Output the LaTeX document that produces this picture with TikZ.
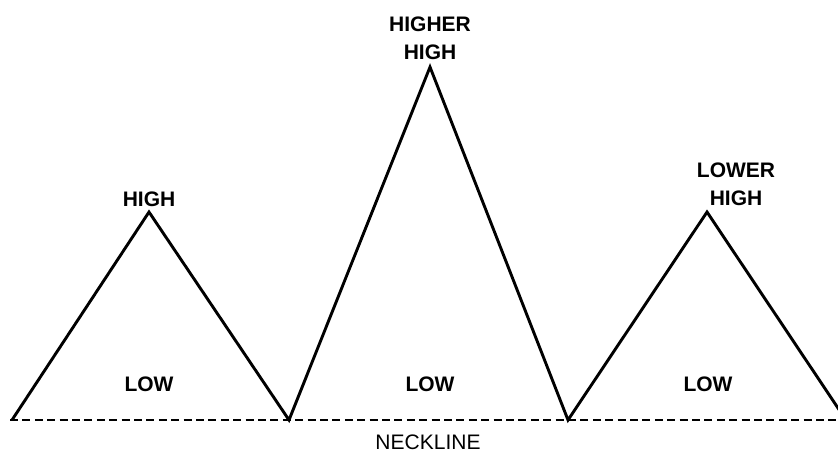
\documentclass[tikz,border=0pt]{standalone}
\usepackage{fontspec}
\setmainfont{Liberation Sans}
\tikzset{
  peaklbl/.style={font=\fontsize{10.5}{14}\selectfont\bfseries, align=center, inner sep=0pt},
  necklbl/.style={font=\fontsize{10.5}{14}\selectfont, inner sep=0pt},
  trendline/.style={line width=1.45pt, line join=miter},
  neckdash/.style={line width=1.45pt, dash pattern=on 4pt off 2.2pt}
}
\begin{document}
\begin{tikzpicture}[x=0.5pt, y=-0.5pt]
  \useasboundingbox (0,0) rectangle (838,452);
  \clip (0,0) rectangle (838,452);

  % Turning points
  \coordinate (start) at (12,420);
  \coordinate (high) at (149,212);
  \coordinate (lowa) at (289,420);
  \coordinate (higherhigh) at (430,67);
  \coordinate (lowb) at (568,420);
  \coordinate (lowerhigh) at (707,212);
  \coordinate (finish) at (846,420);
  \coordinate (neckl) at (10,420);
  \coordinate (neckr) at (838,420);

  % Neckline
  \draw[neckdash] (neckl) -- (neckr);
  \node[necklbl] (neck) at (428,442) {NECKLINE};

  % Price path
  \draw[trendline] (start) -- (high) -- (lowa) -- (higherhigh) -- (lowb) -- (lowerhigh) -- (finish);

  % Labels
  \node[peaklbl] (hlbl) at (149,199) {HIGH};
  \node[peaklbl] (hhlbl) at (430,38) {HIGHER\\HIGH};
  \node[peaklbl] (lhlbl) at (736,184) {LOWER\\HIGH};
  \node[peaklbl] (lowalbl) at (149,384) {LOW};
  \node[peaklbl] (lowblbl) at (430,384) {LOW};
  \node[peaklbl] (lowclbl) at (708,384) {LOW};
\end{tikzpicture}
\end{document}
